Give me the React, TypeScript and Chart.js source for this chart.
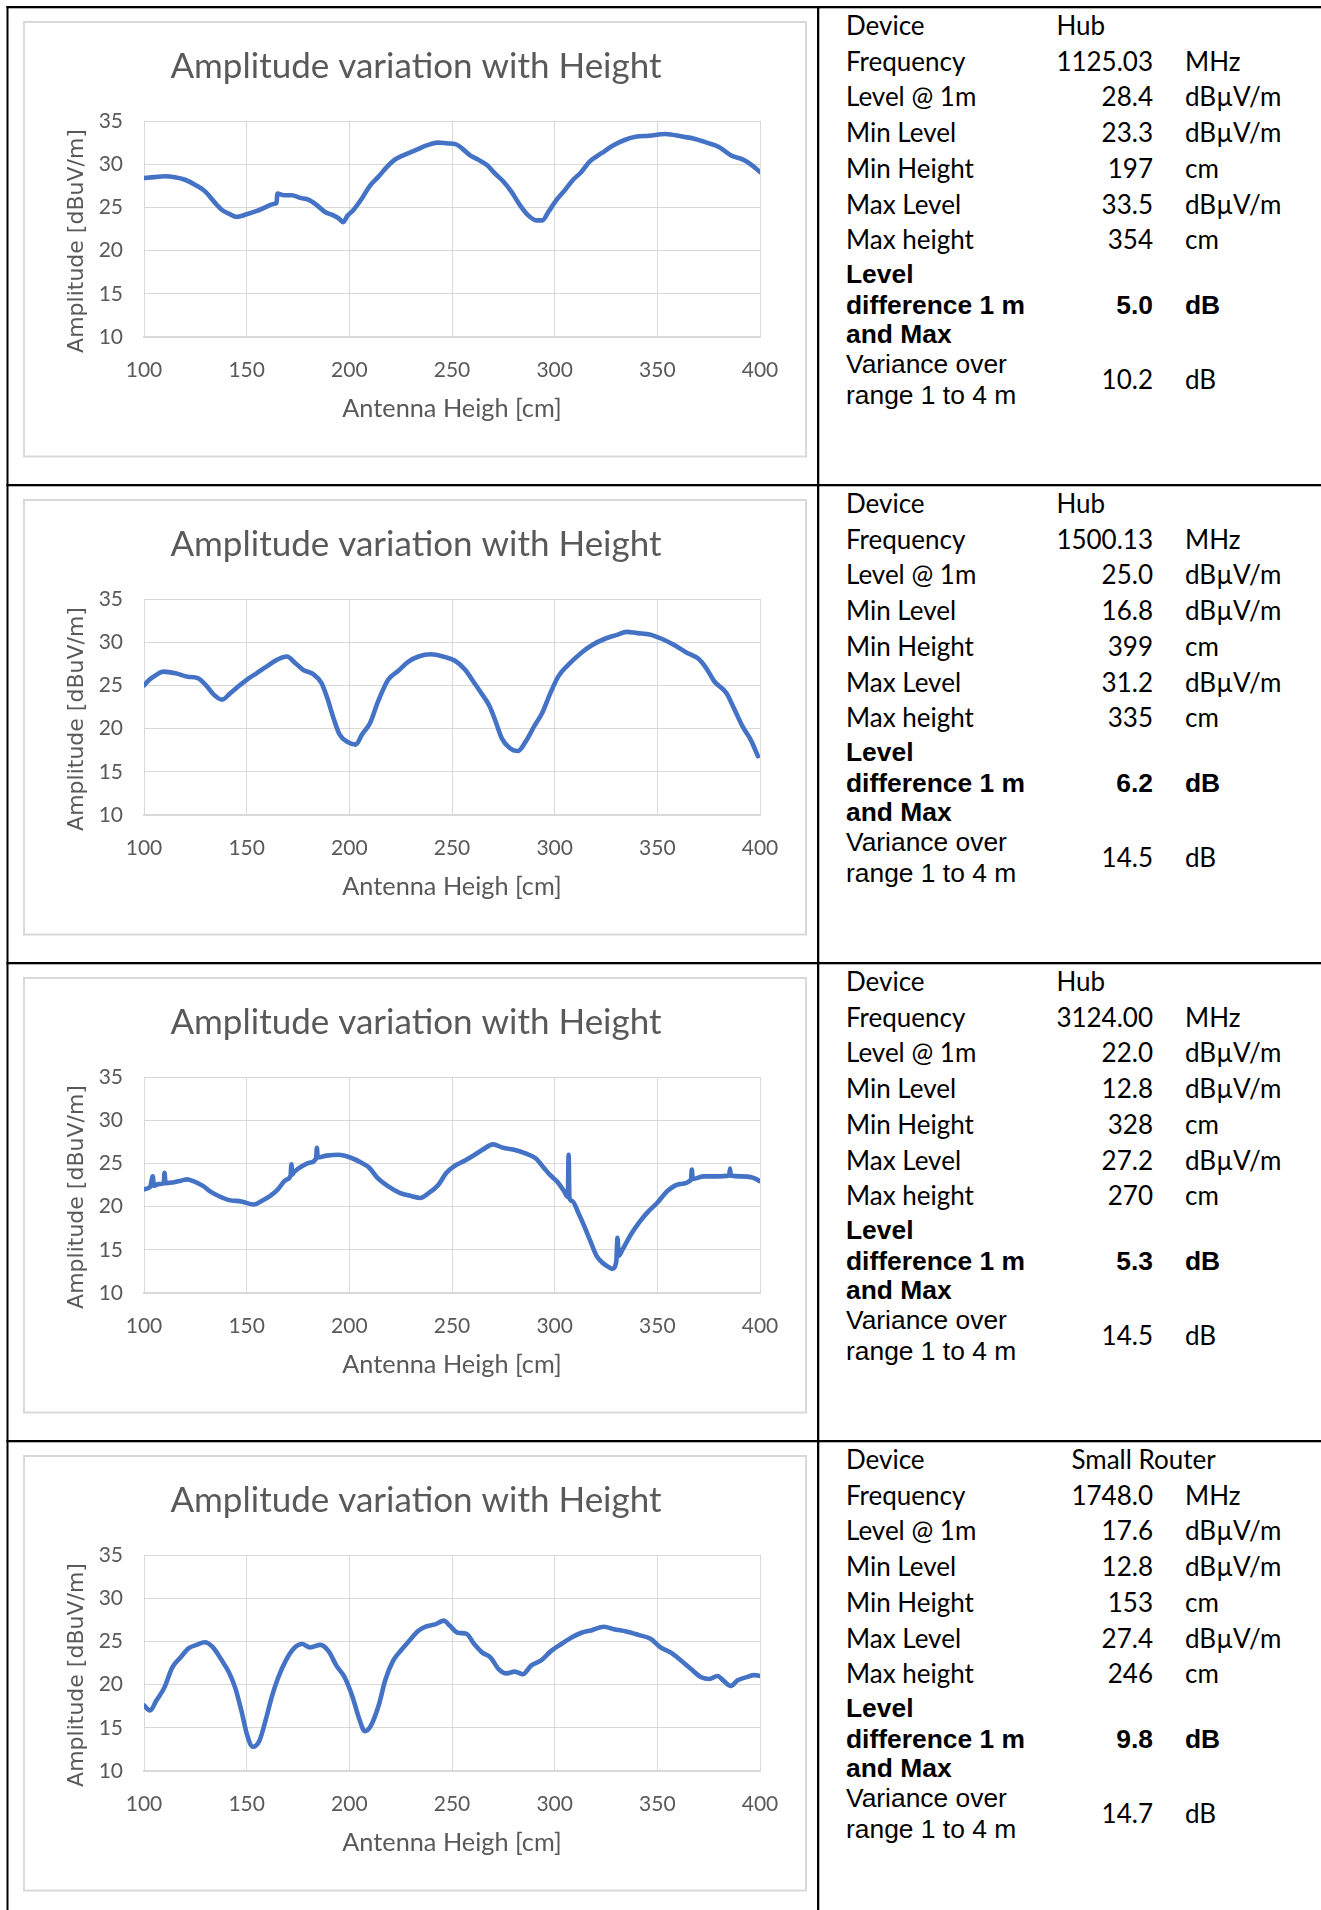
import React, { useEffect, useRef } from 'react';
import { Chart, registerables } from 'chart.js';

Chart.register(...registerables);

// ---- Measured sweeps: antenna height (cm) vs field level (dBµV/m) ----

const HEIGHTS_HUB_1125 = [100, 105, 110, 115, 120, 125, 130, 134, 138, 142, 145, 150, 155, 159, 163, 164.5, 165, 168, 172, 176, 180, 184, 188, 192, 195, 197, 199, 202, 206, 210, 214, 218, 222, 226, 232, 238, 243, 248, 252, 255, 259, 263, 267, 271, 275, 279, 283, 287, 291, 294, 297, 301, 305, 309, 313, 317, 323, 328, 334, 340, 346, 354, 362, 368, 374, 380, 386, 392, 396, 400];
const LEVELS_HUB_1125 = [28.4, 28.5, 28.6, 28.5, 28.2, 27.6, 26.8, 25.7, 24.7, 24.2, 23.9, 24.2, 24.6, 25.0, 25.4, 25.5, 26.6, 26.4, 26.4, 26.1, 25.9, 25.3, 24.5, 24.1, 23.7, 23.3, 24.0, 24.7, 26.0, 27.5, 28.5, 29.6, 30.5, 31.0, 31.6, 32.2, 32.5, 32.4, 32.3, 31.8, 31.0, 30.5, 29.9, 28.9, 28.0, 26.8, 25.3, 24.1, 23.5, 23.5, 24.5, 25.9, 27.0, 28.2, 29.1, 30.3, 31.3, 32.1, 32.8, 33.2, 33.3, 33.5, 33.2, 32.95, 32.5, 32.0, 31.0, 30.5, 29.9, 29.1];

const HEIGHTS_HUB_1500 = [100, 102.6, 105.5, 109.5, 115.4, 121.3, 126.2, 130.2, 134.1, 138, 142, 146, 150, 154.8, 159.8, 164.7, 169.6, 173.6, 177.5, 182.4, 186.4, 189.3, 192.3, 195.3, 199.2, 203.2, 206.1, 210.1, 214, 218.9, 223.9, 228.8, 233.7, 239.6, 245.6, 251.5, 256.4, 260.4, 264.3, 268.3, 271.2, 274.2, 278.1, 282.1, 286, 290, 293.9, 297.9, 301.8, 306.7, 312.6, 318.5, 324.5, 330.4, 335, 340.2, 346.2, 352.1, 358, 363.9, 369.9, 373.8, 377.8, 383.7, 387.6, 391.5, 395.5, 399];
const LEVELS_HUB_1500 = [25.0, 25.65, 26.15, 26.6, 26.4, 26.0, 25.85, 25.0, 23.9, 23.35, 24.1, 24.9, 25.65, 26.4, 27.2, 27.95, 28.35, 27.6, 26.8, 26.3, 25.3, 23.5, 21.2, 19.3, 18.45, 18.15, 19.3, 20.65, 23.15, 25.65, 26.7, 27.75, 28.35, 28.6, 28.35, 27.85, 26.8, 25.45, 24.1, 22.6, 20.85, 18.9, 17.75, 17.4, 18.55, 20.25, 21.8, 24.1, 26.05, 27.4, 28.7, 29.7, 30.4, 30.85, 31.2, 31.05, 30.9, 30.4, 29.7, 28.85, 28.1, 27.0, 25.45, 24.1, 22.2, 20.25, 18.7, 16.8];

const HEIGHTS_HUB_3124 = [100, 103, 104.3, 104.8, 107, 109.6, 110, 110.5, 114, 118, 121, 124, 128.7, 132.6, 136.6, 141.5, 147.4, 153.4, 157.3, 161.3, 165.2, 169.2, 171.4, 171.8, 172.2, 173.1, 177.1, 181, 183.8, 184.2, 184.6, 188.9, 194.9, 200.8, 205.7, 209.7, 213.6, 218.6, 224.5, 230.4, 234.4, 238.3, 243.3, 247.2, 251.2, 256.1, 261.1, 265, 270, 274.9, 279.8, 285.8, 290.7, 294.7, 297.6, 301.6, 304.5, 306.4, 306.8, 307.2, 308.5, 311.5, 314.4, 317.4, 320.4, 323.3, 326.3, 328, 330, 330.6, 331.2, 333.2, 337.2, 341.1, 345.1, 350, 354.9, 360.9, 366.4, 366.8, 367.2, 372.7, 378.7, 385, 385.4, 385.8, 390.5, 396.4, 400];
const LEVELS_HUB_3124 = [22.0, 22.3, 23.5, 22.4, 22.6, 22.7, 23.9, 22.7, 22.8, 23.0, 23.15, 22.95, 22.4, 21.7, 21.2, 20.75, 20.6, 20.25, 20.65, 21.2, 22.0, 23.1, 23.6, 24.9, 23.7, 24.0, 24.7, 25.1, 25.6, 26.8, 25.7, 25.9, 26.0, 25.65, 25.1, 24.5, 23.35, 22.4, 21.6, 21.2, 21.0, 21.5, 22.5, 23.9, 24.7, 25.3, 26.0, 26.6, 27.2, 26.8, 26.6, 26.15, 25.6, 24.5, 23.7, 22.8, 21.8, 21.1, 26.0, 21.0, 20.65, 19.3, 17.75, 16.0, 14.3, 13.5, 13.0, 12.8, 13.6, 16.4, 14.3, 15.1, 16.8, 18.15, 19.3, 20.45, 21.8, 22.6, 23.1, 24.3, 23.2, 23.5, 23.5, 23.6, 24.4, 23.6, 23.5, 23.35, 22.95];

const HEIGHTS_ROUTER_1748 = [100, 103, 105.9, 109.9, 113.8, 117.8, 121.7, 125.7, 129.6, 133.6, 137.5, 141.4, 144.4, 147.4, 150.3, 153, 156.2, 159.2, 162.2, 165.1, 169.1, 173, 177, 180.9, 185.9, 189.8, 193.7, 197.7, 201.6, 204.6, 207.6, 210.5, 214.5, 217.4, 221.4, 225.3, 229.3, 233.2, 237.2, 242.1, 246, 249, 252.9, 256.9, 260.8, 264.8, 268.7, 272.7, 276.6, 280.6, 284.5, 288.5, 293.4, 298.3, 303.3, 308.2, 313.1, 318.1, 324, 328.9, 334.9, 340.8, 346.7, 351.6, 356.6, 361.5, 366.4, 371.4, 375.3, 379.3, 382.2, 385.8, 389.1, 394, 397, 400];
const LEVELS_ROUTER_1748 = [17.6, 17.0, 18.1, 19.65, 22.0, 23.15, 24.2, 24.6, 24.9, 24.3, 22.95, 21.4, 19.65, 17.0, 14.1, 12.8, 13.5, 15.85, 18.55, 20.65, 22.8, 24.2, 24.7, 24.3, 24.6, 23.9, 22.2, 20.85, 18.55, 16.2, 14.6, 15.25, 17.75, 20.45, 22.8, 24.0, 25.1, 26.15, 26.7, 27.0, 27.4, 26.8, 26.0, 25.9, 24.7, 23.7, 23.15, 21.8, 21.3, 21.5, 21.2, 22.2, 22.8, 23.9, 24.7, 25.45, 26.0, 26.3, 26.7, 26.4, 26.15, 25.75, 25.3, 24.3, 23.7, 22.8, 21.8, 20.85, 20.65, 21.0, 20.45, 19.85, 20.5, 20.9, 21.1, 21.0];

// ---- Summary table values, one entry per measurement ----

const DEVICES = ['Hub', 'Hub', 'Hub', 'Small Router'];
const FREQUENCIES = ['1125.03', '1500.13', '3124.00', '1748.0'];
const LEVEL_AT_1M = ['28.4', '25.0', '22.0', '17.6'];
const MIN_LEVELS = ['23.3', '16.8', '12.8', '12.8'];
const MIN_HEIGHTS = ['197', '399', '328', '153'];
const MAX_LEVELS = ['33.5', '31.2', '27.2', '27.4'];
const MAX_HEIGHTS = ['354', '335', '270', '246'];
const LEVEL_DIFFS = ['5.0', '6.2', '5.3', '9.8'];
const VARIANCES = ['10.2', '14.5', '14.5', '14.7'];

const ROW_LABELS = ['Device', 'Frequency', 'Level @ 1m', 'Min Level', 'Min Height', 'Max Level', 'Max height'];
const ROW_UNITS = ['', 'MHz', 'dBµV/m', 'dBµV/m', 'cm', 'dBµV/m', 'cm'];
const DIFF_LABEL = ['Level', 'difference 1 m', 'and Max'];
const VARIANCE_LABEL = ['Variance over', 'range 1 to 4 m'];

// ---- Axis set-up ----
const X_MIN = 100;
const X_MAX = 400;
const X_STEP = 50;
const Y_MIN = 10;
const Y_MAX = 35;
const Y_STEP = 5;

const CHART_TITLE = 'Amplitude variation with Height';
const X_TITLE = 'Antenna Heigh [cm]';
const Y_TITLE = 'Amplitude [dBuV/m]';

const SWEEPS = [
  { heights: HEIGHTS_HUB_1125, levels: LEVELS_HUB_1125 },
  { heights: HEIGHTS_HUB_1500, levels: LEVELS_HUB_1500 },
  { heights: HEIGHTS_HUB_3124, levels: LEVELS_HUB_3124 },
  { heights: HEIGHTS_ROUTER_1748, levels: LEVELS_ROUTER_1748 },
];

const ROW_PITCH = 478;
const LINE_BLUE = '#4472C4';
const TEXT_GREY = '#595959';
const GRID_GREY = '#d9d9d9';
const CALIBRI_LIKE = 'Lato';
const ARIAL_LIKE = "'Liberation Sans', Arial";

const CANVAS_W = 780;
const CANVAS_H = 432;

const titlesPlugin = {
  id: 'sweepTitles',
  afterDraw(chart: any) {
    const { ctx, chartArea } = chart;
    ctx.save();
    ctx.fillStyle = TEXT_GREY;
    ctx.textAlign = 'center';
    ctx.textBaseline = 'alphabetic';
    ctx.font = `35px ${CALIBRI_LIKE}`;
    ctx.fillText(CHART_TITLE, chart.width / 2 + 1, 55);
    ctx.font = `25.3px ${CALIBRI_LIKE}`;
    ctx.fillText(X_TITLE, (chartArea.left + chartArea.right) / 2, 394);
    ctx.translate(57.5, 218);
    ctx.rotate(-Math.PI / 2);
    ctx.font = `22px 'DejaVu Sans'`;
    ctx.fillText(Y_TITLE, 0, 0);
    ctx.restore();
  },
};

function SweepChart({ heights, levels, top }: { heights: number[]; levels: number[]; top: number }) {
  const ref = useRef<HTMLCanvasElement>(null);

  useEffect(() => {
    const canvas = ref.current;
    if (!canvas) return;
    const n = Math.min(heights.length, levels.length);
    const points = [];
    for (let i = 0; i < n; i++) points.push({ x: heights[i], y: levels[i] });

    const tickFont = { family: CALIBRI_LIKE, size: 21 };
    const chart = new Chart(canvas, {
      type: 'line',
      data: {
        datasets: [
          {
            data: points,
            borderColor: LINE_BLUE,
            borderWidth: 4.6,
            borderJoinStyle: 'round',
            borderCapStyle: 'round',
            pointRadius: 0,
            cubicInterpolationMode: 'monotone',
            fill: false,
          },
        ],
      },
      options: {
        responsive: false,
        animation: false,
        devicePixelRatio: 1,
        events: [],
        layout: { padding: { left: 0, top: 98, right: 45, bottom: 0 } },
        plugins: {
          legend: { display: false },
          tooltip: { enabled: false },
          title: { display: false },
        },
        scales: {
          x: {
            type: 'linear',
            min: X_MIN,
            max: X_MAX,
            afterFit: (s: any) => {
              s.height = 118;
            },
            ticks: {
              stepSize: X_STEP,
              color: TEXT_GREY,
              font: tickFont,
              padding: 20.5,
              maxRotation: 0,
              autoSkip: false,
            },
            grid: { color: GRID_GREY, lineWidth: 1, drawTicks: false },
            border: { color: GRID_GREY, width: 2 },
          },
          y: {
            type: 'linear',
            min: Y_MIN,
            max: Y_MAX,
            afterFit: (s: any) => {
              s.width = 119;
            },
            ticks: {
              stepSize: Y_STEP,
              color: TEXT_GREY,
              font: tickFont,
              padding: 21,
            },
            grid: { color: GRID_GREY, lineWidth: 1, drawTicks: false },
            border: { display: false },
          },
        },
      } as any,
      plugins: [titlesPlugin],
    });
    return () => chart.destroy();
  }, [heights, levels]);

  return (
    <canvas
      ref={ref}
      width={CANVAS_W}
      height={CANVAS_H}
      style={{ position: 'absolute', left: 25, top, width: CANVAS_W, height: CANVAS_H }}
    />
  );
}

let measureCtx: CanvasRenderingContext2D | null = null;
function textWidth(text: string, font: string) {
  if (!measureCtx) measureCtx = document.createElement('canvas').getContext('2d');
  if (!measureCtx) return 0;
  measureCtx.font = font;
  return measureCtx.measureText(text).width;
}

const TABLE_SIZE = 26;
const ARIAL_SIZE = 26.4;
const LABEL_X = 846;
const VALUE_RIGHT = 1153;
const UNIT_X = 1185;

function SummaryCell({ r }: { r: number }) {
  const off = r * ROW_PITCH;
  const values = [
    DEVICES[r],
    FREQUENCIES[r],
    LEVEL_AT_1M[r],
    MIN_LEVELS[r],
    MIN_HEIGHTS[r],
    MAX_LEVELS[r],
    MAX_HEIGHTS[r],
  ];
  const deviceX = VALUE_RIGHT - textWidth(FREQUENCIES[r], `${TABLE_SIZE}px ${CALIBRI_LIKE}`);
  const lineY = (i: number) => off + 35 + 35.7 * i;
  const calibri = { fontFamily: CALIBRI_LIKE, fontSize: TABLE_SIZE, fill: '#000' };
  const arial = { fontFamily: ARIAL_LIKE, fontSize: ARIAL_SIZE, fill: '#000' };
  const diffY = [282.7, 314, 343.3];
  const varY = [373.3, 404];
  return (
    <g>
      {ROW_LABELS.map((label, i) => (
        <g key={label}>
          <text x={LABEL_X} y={lineY(i)} {...calibri}>
            {label}
          </text>
          {i === 0 ? (
            <text x={deviceX} y={lineY(i)} {...calibri}>
              {values[i]}
            </text>
          ) : (
            <text x={VALUE_RIGHT} y={lineY(i)} textAnchor="end" {...calibri}>
              {values[i]}
            </text>
          )}
          {ROW_UNITS[i] && (
            <text x={UNIT_X} y={lineY(i)} {...calibri}>
              {ROW_UNITS[i]}
            </text>
          )}
        </g>
      ))}
      {DIFF_LABEL.map((t, i) => (
        <text key={t} x={LABEL_X} y={off + diffY[i]} fontWeight="bold" {...arial}>
          {t}
        </text>
      ))}
      <text x={VALUE_RIGHT} y={off + diffY[1]} textAnchor="end" fontWeight="bold" {...arial}>
        {LEVEL_DIFFS[r]}
      </text>
      <text x={UNIT_X} y={off + diffY[1]} fontWeight="bold" {...arial}>
        dB
      </text>
      {VARIANCE_LABEL.map((t, i) => (
        <text key={t} x={LABEL_X} y={off + varY[i]} {...arial}>
          {t}
        </text>
      ))}
      <text x={VALUE_RIGHT} y={off + 389.3} textAnchor="end" {...calibri}>
        {VARIANCES[r]}
      </text>
      <text x={UNIT_X} y={off + 389.3} {...calibri}>
        dB
      </text>
    </g>
  );
}

export default function App() {
  const rows = [0, 1, 2, 3];
  return (
    <div
      style={{
        position: 'absolute',
        left: 0,
        top: 0,
        width: 1321,
        height: 1910,
        background: '#fff',
        overflow: 'hidden',
      }}
    >
      <svg width={1321} height={1910} style={{ position: 'absolute', left: 0, top: 0 }}>
        {/* table rules */}
        <rect x={6.5} y={6} width={2} height={1904} fill="#000" />
        <rect x={817} y={6} width={2.3} height={1904} fill="#000" />
        {rows.map((r) => (
          <rect key={`h${r}`} x={6.5} y={6 + r * ROW_PITCH} width={1321} height={2.3} fill="#000" />
        ))}
        {/* chart frames */}
        {rows.map((r) => (
          <rect
            key={`f${r}`}
            x={24}
            y={22 + r * ROW_PITCH}
            width={782}
            height={434.5}
            fill="#fff"
            stroke={GRID_GREY}
            strokeWidth={2}
          />
        ))}
        {rows.map((r) => (
          <SummaryCell key={`s${r}`} r={r} />
        ))}
      </svg>
      {SWEEPS.map((s, r) => (
        <SweepChart key={r} heights={s.heights} levels={s.levels} top={23 + r * ROW_PITCH} />
      ))}
    </div>
  );
}
